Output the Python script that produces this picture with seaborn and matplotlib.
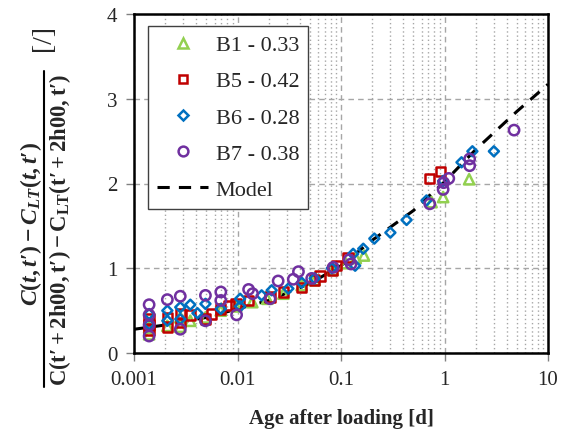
import numpy as np
import pandas as pd
import matplotlib
matplotlib.use("Agg")
import matplotlib.pyplot as plt
from matplotlib.lines import Line2D
from matplotlib.ticker import FixedLocator, FixedFormatter, LogLocator, NullFormatter
import seaborn as sns

# ---- data ----
b1_x = [0.0014, 0.0014, 0.0021, 0.0028, 0.0028, 0.0035, 0.0049, 0.0069, 0.0097, 0.0139,
        0.0194, 0.0278, 0.0417, 0.0556, 0.0833, 0.111, 0.139, 0.167, 0.75, 0.97, 1.73]
b1_y = [0.22, 0.30, 0.32, 0.31, 0.42, 0.38, 0.42, 0.50, 0.55, 0.60,
        0.64, 0.70, 0.80, 0.86, 0.98, 1.06, 1.12, 1.15, 1.78, 1.84, 2.05]

b5_x = [0.0014, 0.0014, 0.0014, 0.0021, 0.0021, 0.0028, 0.0028, 0.0035, 0.0049, 0.0056,
        0.0069, 0.0083, 0.0097, 0.0128, 0.0206, 0.0277, 0.0417, 0.0556, 0.0627, 0.0833,
        0.091, 0.117, 0.72, 0.92]
b5_y = [0.40, 0.33, 0.27, 0.42, 0.30, 0.46, 0.36, 0.45, 0.40, 0.46,
        0.52, 0.56, 0.58, 0.62, 0.66, 0.72, 0.77, 0.86, 0.91, 0.98,
        1.03, 1.13, 2.06, 2.14]

b6_x = [0.0014, 0.0014, 0.0021, 0.0021, 0.0028, 0.0028, 0.0035, 0.0041, 0.0049, 0.0069,
        0.0106, 0.0106, 0.0171, 0.0214, 0.031, 0.0417, 0.0556, 0.0815, 0.131, 0.137,
        0.164, 0.21, 0.30, 0.43, 0.67, 0.97, 1.46, 1.86, 3.0]
b6_y = [0.46, 0.34, 0.50, 0.38, 0.54, 0.40, 0.57, 0.47, 0.58, 0.52,
        0.64, 0.55, 0.68, 0.74, 0.76, 0.83, 0.88, 1.00, 1.17, 1.03,
        1.23, 1.35, 1.42, 1.57, 1.80, 2.03, 2.25, 2.38, 2.38]

b7_x = [0.0014, 0.0014, 0.0014, 0.0014, 0.0021, 0.0028, 0.0028, 0.0049, 0.0049, 0.0069,
        0.0069, 0.0098, 0.0128, 0.0140, 0.0206, 0.0247, 0.0346, 0.0388, 0.0521, 0.084,
        0.12, 0.125, 0.72, 0.97, 0.98, 1.1, 1.75, 1.75, 4.7]
b7_y = [0.57, 0.45, 0.33, 0.20, 0.63, 0.67, 0.28, 0.68, 0.38, 0.72,
        0.62, 0.45, 0.75, 0.70, 0.64, 0.85, 0.87, 0.96, 0.88, 1.01,
        1.10, 1.05, 1.76, 1.93, 2.01, 2.06, 2.29, 2.21, 2.63]

model_x = [0.001, 0.002, 0.005, 0.01, 0.02, 0.05, 0.1, 0.2, 0.5, 1, 2, 5, 10]
model_y = [0.28, 0.33, 0.42, 0.52, 0.62, 0.82, 1.03, 1.33, 1.68, 2.02, 2.40, 2.85, 3.17]

series = [
    ("B1 - 0.33", b1_x, b1_y, "^", "#92D050", 55),
    ("B5 - 0.42", b5_x, b5_y, "s", "#C00000", 45),
    ("B6 - 0.28", b6_x, b6_y, "D", "#0070C0", 26),
    ("B7 - 0.38", b7_x, b7_y, "o", "#7030A0", 55),
]

sns.set_style("white")
plt.rcParams["font.family"] = ["Liberation Serif", "DejaVu Serif"]
plt.rcParams["mathtext.fontset"] = "custom"
plt.rcParams["mathtext.rm"] = "Liberation Serif:bold"
plt.rcParams["mathtext.it"] = "Liberation Serif:italic:bold"
plt.rcParams["mathtext.bf"] = "Liberation Serif:bold"

fig = plt.figure(figsize=(5.67, 4.35), dpi=100)
ax = fig.add_axes([134 / 567, 1 - 354 / 435, 414 / 567, 339 / 435])

grid_c = "#A6A6A6"

# model
mdf = pd.DataFrame({"x": model_x, "y": model_y})
sns.lineplot(data=mdf, x="x", y="y", ax=ax, color="black", lw=2.2,
             dashes=False, zorder=3)
ax.lines[-1].set_dashes((4, 3))

# data series, hollow markers
for label, xs, ys, mk, col, size in series:
    df = pd.DataFrame({"x": xs, "y": ys})
    sns.scatterplot(data=df, x="x", y="y", ax=ax, marker=mk, s=size,
                    zorder=4)
    pts = ax.collections[-1]
    pts.set_facecolor("none")
    pts.set_edgecolor(col)
    pts.set_linewidth(1.8)

ax.set_xscale("log")
ax.set_xlim(0.001, 10)
ax.set_ylim(0, 4)

ax.xaxis.set_major_locator(FixedLocator([0.001, 0.01, 0.1, 1, 10]))
ax.xaxis.set_major_formatter(FixedFormatter(["0.001", "0.01", "0.1", "1", "10"]))
ax.xaxis.set_minor_locator(LogLocator(base=10, subs=np.arange(2, 10)))
ax.xaxis.set_minor_formatter(NullFormatter())
ax.set_yticks([0, 1, 2, 3, 4])
ax.set_yticklabels(["0", "1", "2", "3", "4"])

ax.grid(which="major", axis="both", color=grid_c, lw=1.0, ls=(0, (4, 3)), zorder=0)
ax.grid(which="minor", axis="x", color=grid_c, lw=1.0, ls=(0, (1, 2)), zorder=0)
ax.set_axisbelow(True)

ax.tick_params(axis="both", which="major", direction="out", length=6, width=1,
               color="#808080", labelsize=15, pad=6)
ax.tick_params(axis="x", which="minor", length=0)
ax.tick_params(left=True, bottom=True)

for sp in ax.spines.values():
    sp.set_color("black")
    sp.set_linewidth(1.8)

ax.set_xlabel("Age after loading [d]", fontsize=15, fontweight="bold", labelpad=14)
ax.set_ylabel("")

# y label as a fraction built from two texts and a rule
fig.text(31 / 567, 1 - 224 / 435, r"$C(t,t′)-C_{LT}(t,t′)$",
         rotation=90, ha="center", va="center", fontsize=17)
fig.text(60 / 567, 1 - 230 / 435,
         r"$\mathrm{C(t′+2h00,t′)-C_{LT}(t′+2h00,t′)}$",
         rotation=90, ha="center", va="center", fontsize=16.3)
fig.add_artist(Line2D([44 / 567, 44 / 567], [1 - 72 / 435, 1 - 388 / 435],
                      transform=fig.transFigure, color="black", lw=1.5))
fig.text(44 / 567, 1 - 38 / 435, "[/]", rotation=90, ha="center", va="center",
         fontsize=20)

handles = [Line2D([], [], ls="none", marker=mk, markersize=np.sqrt(size) * 0.95,
                  markerfacecolor="none", markeredgecolor=col, markeredgewidth=1.8)
           for _, _, _, mk, col, size in series]
handles.append(Line2D([], [], color="black", lw=2.2, dashes=(4, 3)))
labels = [s[0] for s in series] + ["Model"]
leg = ax.legend(handles, labels, loc="upper left", bbox_to_anchor=(0.034, 0.965),
                borderaxespad=0, frameon=True, fancybox=False, fontsize=16,
                labelspacing=0.7, handlelength=2.3, handletextpad=0.35,
                borderpad=0.4)
leg.get_frame().set_edgecolor("#404040")
leg.get_frame().set_linewidth(1.0)
leg.get_frame().set_facecolor("white")
leg.get_frame().set_alpha(1)
leg.set_zorder(10)

fig.savefig("out.png", dpi=100)
